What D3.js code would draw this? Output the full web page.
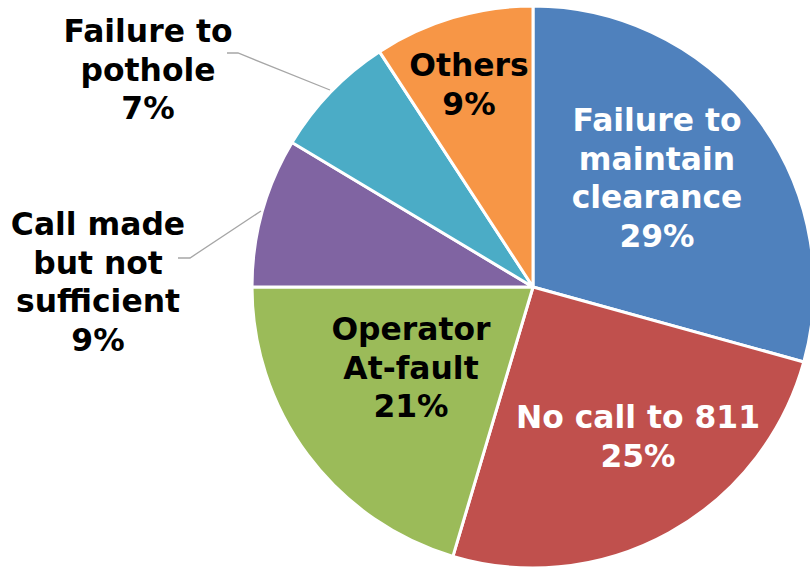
<!DOCTYPE html>
<html><head><meta charset="utf-8">
<script src="https://cdn.jsdelivr.net/npm/d3@7"></script>
<style>html,body{margin:0;padding:0;background:#fff;}svg{display:block;}</style>
</head><body>
<svg id="chart" width="810" height="567"></svg>
<script>
const categories = ["Failure to maintain clearance", "No call to 811", "Operator At-fault", "Call made but not sufficient", "Failure to pothole", "Others"];
const values = [29.3, 25.3, 20.4, 8.6, 7.2, 9.2];
const pctLabels = ["29%", "25%", "21%", "9%", "7%", "9%"];
const labelLines = [["Failure to", "maintain", "clearance"], ["No call to 811"], ["Operator", "At-fault"], ["Call made", "but not", "sufficient"], ["Failure to", "pothole"], ["Others"]];
const colors = ["#4F81BD", "#C0504D", "#9BBB59", "#8064A2", "#4BACC6", "#F79646"];
const textColors = ["#fff", "#fff", "#000", "#000", "#000", "#000"];

// layout (first baseline offsets from pie center)
const cx = 533, cy = 287, R = 281;
const labelPos = [[124, -156], [105, 141], [-122, 53], [-435, -52], [-385, -245], [-64, -211]];
const lineH = 38.5;
const leaders = [null, null, null, [[-355, -29], [-343, -29], [-272, -76]], [[-306, -234], [-295, -234], [-203, -197]], null];

const svg = d3.select("#chart");
const g = svg.append("g").attr("transform", `translate(${cx},${cy})`);
const pie = d3.pie().sort(null).value(d => d)(values);
const arc = d3.arc().innerRadius(0).outerRadius(R);

g.selectAll("path.slice").data(pie).join("path")
  .attr("class", "slice")
  .attr("d", arc)
  .attr("fill", (d, i) => colors[i])
  .attr("stroke", "#fff")
  .attr("stroke-width", 3)
  .attr("stroke-linejoin", "round");

leaders.forEach(l => {
  if (!l) return;
  g.append("path").attr("d", d3.line()(l)).attr("fill", "none").attr("stroke", "#a6a6a6").attr("stroke-width", 1.3);
});

pie.forEach((d, i) => {
  const lines = labelLines[i].concat([pctLabels[i]]);
  const t = g.append("text")
    .attr("text-anchor", "middle")
    .attr("font-family", "'DejaVu Sans', Verdana, sans-serif")
    .attr("font-weight", "bold")
    .attr("font-size", 31.4)
    .attr("fill", textColors[i]);
  lines.forEach((s, j) => {
    t.append("tspan").attr("x", labelPos[i][0]).attr("y", labelPos[i][1] + j * lineH).text(s);
  });
});
</script>
</body></html>
